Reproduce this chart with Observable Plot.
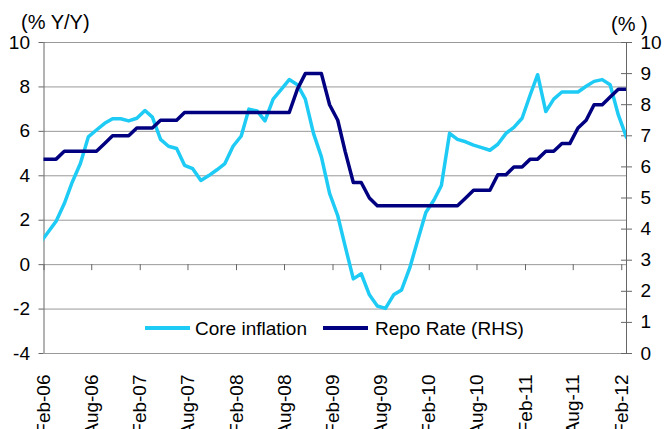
<!DOCTYPE html>
<html>
<head>
<meta charset="utf-8">
<script src="https://cdn.jsdelivr.net/npm/d3@7"></script>
<script src="https://cdn.jsdelivr.net/npm/@observablehq/plot@0.6"></script>
<style>
  body { margin: 0; background: #fff; }
  #chart { position: relative; width: 664px; height: 429px; font-family: "Liberation Sans", Arial, sans-serif; color: #000; }
  #chart svg { position: absolute; left: 0; top: 0; }
  .lbl { position: absolute; line-height: 1; white-space: pre; color: #000; }
  .sw { position: absolute; height: 4px; }
</style>
</head>
<body>
<div id="chart"></div>
<script>
// ---- Data ----
// Monthly observations, Jan-06 .. Feb-12 (first point sits just left of the axis and is clipped)
const coreInflation = [1.0, 1.5, 1.95, 2.75, 3.71, 4.55, 5.75, 6.06, 6.36, 6.57, 6.57, 6.47, 6.59, 6.94, 6.64, 5.64,
  5.33, 5.23, 4.47, 4.32, 3.79, 4.01, 4.27, 4.55, 5.33, 5.79, 7.0, 6.92, 6.47, 7.45, 7.88, 8.33, 8.10, 7.45, 5.91,
  4.85, 3.21, 2.2, 0.83, -0.64, -0.41, -1.36, -1.86, -1.97, -1.36, -1.14, -0.15, 1.09, 2.35, 2.91, 3.56, 5.91, 5.64,
  5.53, 5.38, 5.27, 5.15, 5.42, 5.91, 6.18, 6.59, 7.65, 8.55, 6.89, 7.45, 7.77, 7.77, 7.77, 8.03, 8.25, 8.33, 8.10,
  6.74, 5.73];
const repoRate = [6.25, 6.25, 6.25, 6.5, 6.5, 6.5, 6.5, 6.5, 6.75, 7.0, 7.0, 7.0, 7.25, 7.25, 7.25, 7.5, 7.5, 7.5,
  7.75, 7.75, 7.75, 7.75, 7.75, 7.75, 7.75, 7.75, 7.75, 7.75, 7.75, 7.75, 7.75, 7.75, 8.5, 9.0, 9.0, 9.0, 8.0, 7.5,
  6.5, 5.5, 5.5, 5.0, 4.75, 4.75, 4.75, 4.75, 4.75, 4.75, 4.75, 4.75, 4.75, 4.75, 4.75, 5.0, 5.25, 5.25, 5.25, 5.75,
  5.75, 6.0, 6.0, 6.25, 6.25, 6.5, 6.5, 6.75, 6.75, 7.25, 7.5, 8.0, 8.0, 8.25, 8.5, 8.5];
const tickLabels = ["Feb-06", "Aug-06", "Feb-07", "Aug-07", "Feb-08", "Aug-08", "Feb-09", "Aug-09", "Feb-10",
  "Aug-10", "Feb-11", "Aug-11", "Feb-12"];
const leftTicks = [-4, -2, 0, 2, 4, 6, 8, 10];
const rightTicks = [0, 1, 2, 3, 4, 5, 6, 7, 8, 9, 10];
const seriesNames = ["Core inflation", "Repo Rate (RHS)"];
const colors = ["#1ECBF5", "#000080"];

// ---- Helpers ----
const leftDomain = [-4, 10], rightDomain = [0, 10];
const toLeft = r => leftDomain[0] + (r - rightDomain[0]) * (leftDomain[1] - leftDomain[0]) / (rightDomain[1] - rightDomain[0]);
const fromLeft = v => rightDomain[0] + (v - leftDomain[0]) * (rightDomain[1] - rightDomain[0]) / (leftDomain[1] - leftDomain[0]);
const dateOf = k => new Date(Date.UTC(2006, k, 19));
const core = coreInflation.map((v, k) => ({date: dateOf(k), value: v}));
const repo = repoRate.map((v, k) => ({date: dateOf(k), value: toLeft(v)}));
const tickDates = tickLabels.map((_, i) => new Date(Date.UTC(2006, 1 + 6 * i, 1)));
const labelByTime = new Map(tickDates.map((d, i) => [+d, tickLabels[i]]));
const xDomain = [tickDates[0], dateOf(repoRate.length - 1)];
const rightTickVals = rightTicks.map(toLeft);

const plot = Plot.plot({
  width: 664,
  height: 429,
  marginLeft: 43.5,
  marginRight: 38,
  marginTop: 42,
  marginBottom: 76,
  x: {type: "utc", domain: xDomain},
  y: {domain: leftDomain},
  style: {fontFamily: "'Liberation Sans', Arial, sans-serif", fontSize: "19px", color: "#000", background: "transparent", overflow: "visible"},
  marks: [
    Plot.gridY(leftTicks, {stroke: "#999", strokeOpacity: 1, strokeWidth: 1}),
    Plot.ruleX(xDomain, {stroke: "#666", strokeWidth: 1}),
    Plot.ruleX(tickDates, {y1: 0, y2: 0, insetBottom: -6, stroke: "#666"}),
    Plot.ruleY(rightTickVals, {x1: xDomain[1], x2: xDomain[1], insetLeft: -5, insetRight: -6, stroke: "#666"}),
    Plot.axisY(leftTicks, {anchor: "left", tickSize: 5, tickPadding: 9, stroke: "#666", fill: "#000", label: null,
      tickFormat: v => String(v)}),
    Plot.axisY(rightTickVals, {anchor: "right", tickSize: 0, tickPadding: 14, fill: "#000", label: null,
      tickFormat: v => String(Math.round(fromLeft(v)))}),
    Plot.axisX(tickDates, {anchor: "bottom", tickSize: 0, tickRotate: -90, tickPadding: 21, fill: "#000", label: null,
      tickFormat: d => labelByTime.get(+d)}),
    Plot.line(core, {x: "date", y: "value", stroke: colors[0], strokeWidth: 3.5, clip: true}),
    Plot.line(repo, {x: "date", y: "value", stroke: colors[1], strokeWidth: 3.5, clip: true})
  ]
});

const chart = document.getElementById("chart");
chart.appendChild(plot);

function addLabel(text, left, top, size) {
  const el = document.createElement("div");
  el.className = "lbl";
  el.textContent = text;
  el.style.left = left + "px";
  el.style.top = top + "px";
  el.style.fontSize = size + "px";
  chart.appendChild(el);
}
function addSwatch(color, left, top, width) {
  const el = document.createElement("div");
  el.className = "sw";
  el.style.left = left + "px";
  el.style.top = top + "px";
  el.style.width = width + "px";
  el.style.background = color;
  chart.appendChild(el);
}
addLabel("(% Y/Y)", 21, 12, 20);
addLabel("(% )", 611, 14, 20);
addSwatch(colors[0], 145, 326, 45);
addLabel(seriesNames[0], 195, 319, 19);
addSwatch(colors[1], 323, 326, 45);
addLabel(seriesNames[1], 375, 319, 19);
</script>
</body>
</html>
